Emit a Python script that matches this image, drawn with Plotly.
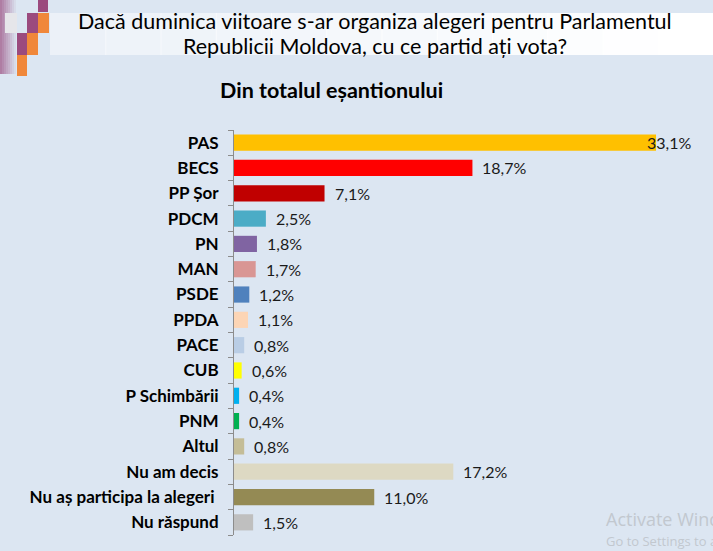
import plotly.graph_objects as go

# Data
categories = ["PAS", "BECS", "PP Șor", "PDCM", "PN", "MAN", "PSDE", "PPDA", "PACE", "CUB",
              "P Schimbării", "PNM", "Altul", "Nu am decis", "Nu aș participa la alegeri\u00a0", "Nu răspund"]
values = [33.1, 18.7, 7.1, 2.5, 1.8, 1.7, 1.2, 1.1, 0.8, 0.6, 0.4, 0.4, 0.8, 17.2, 11.0, 1.5]
colors = ["#FFC000", "#FF0000", "#C00000", "#4BACC6", "#8064A2", "#D99694", "#4F81BD", "#FCD5B5",
          "#B9CDE5", "#FFFF00", "#00B0F0", "#00B050", "#C4BD97", "#DDD9C3", "#948A54", "#BFBFBF"]
labels = [f"{v:.1f}".replace(".", ",") + "%" for v in values]

title_1 = "Dacă duminica viitoare s-ar organiza alegeri pentru Parlamentul"
title_2 = "Republicii Moldova, cu ce partid ați vota?"
subtitle = "Din totalul eșantionului"

FONT = "Lato"
W, H = 713, 551
L, R, T, B = 234, 13, 130, 16
PW, PH = W - L - R, H - T - B


def px(x):
    return (x - L) / PW


def py(y):
    return (H - B - y) / PH


fig = go.Figure(go.Bar(
    x=values,
    y=categories,
    orientation="h",
    marker=dict(color=colors, line=dict(width=0)),
    width=0.64,
    hoverinfo="skip",
))

# value labels (PAS label sits over the bar end, as in the original)
annotations = []
for cat, v, lab in zip(categories, values, labels):
    annotations.append(dict(
        x=v, y=cat, xref="x", yref="y", text=lab, showarrow=False,
        xanchor="left", xshift=-11 if v > 30 else 8,
        font=dict(family=FONT, size=16, color="#1a1a1a"),
    ))

# titles
annotations += [
    dict(x=px(375), y=py(21), xref="paper", yref="paper", text=title_1, showarrow=False,
         xanchor="center", yanchor="middle", font=dict(family=FONT, size=21.5, color="#000000")),
    dict(x=px(375), y=py(46), xref="paper", yref="paper", text=title_2, showarrow=False,
         xanchor="center", yanchor="middle", font=dict(family=FONT, size=21.5, color="#000000")),
    dict(x=px(331), y=py(90), xref="paper", yref="paper", text="<b>" + subtitle + "</b>", showarrow=False,
         xanchor="center", yanchor="middle", font=dict(family=FONT, size=21.5, color="#000000")),
    dict(x=px(604), y=py(519), xref="paper", yref="paper", text="Activate Windows", showarrow=False,
         xanchor="left", yanchor="middle", font=dict(family="Open Sans", size=18, color="#c2c8cf")),
    dict(x=px(604), y=py(541), xref="paper", yref="paper", text="Go to Settings to activate Windows.",
         showarrow=False, xanchor="left", yanchor="middle",
         font=dict(family="Open Sans", size=13, color="#c2c8cf")),
]

# title band (light, fading to white on the right) and corner decoration
shapes = []
n = 12
for i in range(n):
    x0 = 50 + i * (W - 50) / n
    x1 = 50 + (i + 1) * (W - 50) / n
    shapes.append(dict(type="rect", xref="paper", yref="paper", x0=px(x0), x1=px(x1 + 1),
                       y0=py(55), y1=py(13), fillcolor="#ffffff", line=dict(width=0),
                       opacity=0.45 + 0.55 * i / (n - 1), layer="below"))
for i in range(8):
    shapes.append(dict(type="rect", xref="paper", yref="paper", x0=px(i * 2), x1=px(i * 2 + 2),
                       y0=py(74), y1=py(0), fillcolor="#9b5082", line=dict(width=0),
                       opacity=0.7 - i * 0.09, layer="below"))
deco = [
    (38, 48, 0, 12, "#9b4a7e"),
    (27, 38, 13, 33, "#9b4a7e"),
    (38, 49, 13, 33, "#f0873a"),
    (17, 27, 33, 55, "#9b4a7e"),
    (27, 38, 33, 55, "#f0873a"),
    (17, 27, 55, 76, "#f0873a"),
    (5, 17, 13, 33, "#e6e6ea"),
]
for x0, x1, y0, y1, c in deco:
    shapes.append(dict(type="rect", xref="paper", yref="paper", x0=px(x0), x1=px(x1),
                       y0=py(y1), y1=py(y0), fillcolor=c, line=dict(width=0)))

fig.update_layout(
    width=W, height=H,
    margin=dict(l=L, r=R, t=T, b=B),
    paper_bgcolor="#DCE6F2",
    plot_bgcolor="#DCE6F2",
    showlegend=False,
    annotations=annotations,
    shapes=shapes,
)
fig.update_xaxes(range=[0, PW / 12.75], showgrid=False, zeroline=False, showticklabels=False,
                 showline=False, fixedrange=True)
fig.update_yaxes(autorange="reversed", showgrid=False, zeroline=False,
                 showline=True, linecolor="#8c8c8c", linewidth=1,
                 ticks="outside", tickson="boundaries", ticklen=5, tickcolor="#8c8c8c",
                 tickfont=dict(family=FONT, size=17, color="#000000"),
                 ticklabelstandoff=11, fixedrange=True)
# bold category labels
fig.update_yaxes(tickmode="array", tickvals=categories, ticktext=["<b>" + c + "</b>" for c in categories])

# page without body margin so the figure fills the window
fig.write_html("out.html", config={"displayModeBar": False},
               post_script="document.body.style.margin='0';document.body.style.overflow='hidden';")
